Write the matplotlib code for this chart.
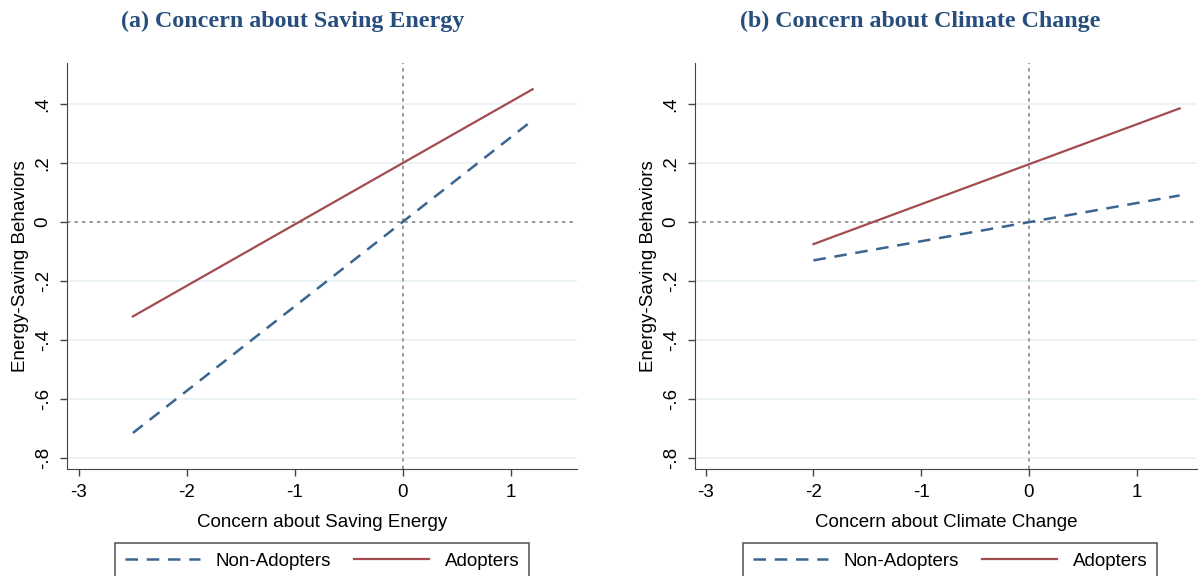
import matplotlib
matplotlib.use('Agg')
import matplotlib.pyplot as plt

# fitted lines (end points)
a_x = [-2.5, 1.2]
a_non = [-0.715, 0.345]
a_adopt = [-0.32, 0.45]

b_x = [-2.0, 1.4]
b_non = [-0.13, 0.09]
b_adopt = [-0.075, 0.385]

xticks = [-3, -2, -1, 0, 1]
yticks = [0.4, 0.2, 0, -0.2, -0.4, -0.6, -0.8]
ylabels = ['.4', '.2', '0', '-.2', '-.4', '-.6', '-.8']

titles = ['(a) Concern about Saving Energy', '(b) Concern about Climate Change']
xlabels = ['Concern about Saving Energy', 'Concern about Climate Change']

navy = '#3a6590'
maroon = '#a24b50'
title_col = '#284e7e'

plt.rcParams['font.family'] = ['Liberation Sans', 'DejaVu Sans']
fs = 13.5

fig = plt.figure(figsize=(11.98, 5.76), dpi=100)
ax_a = fig.add_axes([0.0559, 0.1858, 0.4257, 0.7049])
ax_b = fig.add_axes([0.5801, 0.1858, 0.4190, 0.7049])

panels = [(ax_a, a_x, a_non, a_adopt, (-3.11, 1.61)),
          (ax_b, b_x, b_non, b_adopt, (-3.10, 1.56))]

title_x = [293 / 1198, 920 / 1198]
legend_x = [322 / 1198, 950 / 1198]

for i, (ax, x, non, adopt, xlim) in enumerate(panels):
    for y in yticks:
        if y != 0:
            ax.axhline(y, color='#e8f1f3', lw=1.2, zorder=0)
    ax.axhline(0, color='#888888', lw=1.2, ls=(0, (2, 2.5)), zorder=1)
    ax.axvline(0, color='#888888', lw=1.2, ls=(0, (2, 2.5)), zorder=1)

    ax.plot(x, non, color=navy, lw=1.8, ls=(0, (5, 3.5)), label='Non-Adopters', zorder=3)
    ax.plot(x, adopt, color=maroon, lw=1.6, label='Adopters', zorder=3)

    ax.set_xlim(*xlim)
    ax.set_ylim(-0.837, 0.539)
    ax.set_xticks(xticks)
    ax.set_xticklabels([str(t) for t in xticks], fontsize=fs)
    ax.set_yticks(yticks)
    ax.set_yticklabels(ylabels, fontsize=fs, rotation=90, va='center')
    ax.tick_params(length=5, width=1, color='#444444', pad=6)
    ax.spines['top'].set_visible(False)
    ax.spines['right'].set_visible(False)
    ax.spines['left'].set_color('#444444')
    ax.spines['bottom'].set_color('#444444')
    ax.set_xlabel(xlabels[i], fontsize=fs, labelpad=9)
    ax.set_ylabel('Energy-Saving Behaviors', fontsize=fs, labelpad=4)

    fig.text(title_x[i], 0.963, titles[i], ha='center', va='center',
             family='Liberation Serif', weight='bold', fontsize=17.3, color=title_col)

    leg = fig.legend(handles=ax.get_lines()[-2:], loc='upper center',
                     bbox_to_anchor=(legend_x[i], 33 / 576), borderaxespad=0,
                     ncol=2, frameon=True, fancybox=False, fontsize=fs,
                     handlelength=4.0, columnspacing=1.2, borderpad=0.5,
                     handletextpad=0.85)
    leg.get_frame().set_edgecolor('#333333')
    leg.get_frame().set_linewidth(1.2)

fig.savefig('out.png', dpi=100)
